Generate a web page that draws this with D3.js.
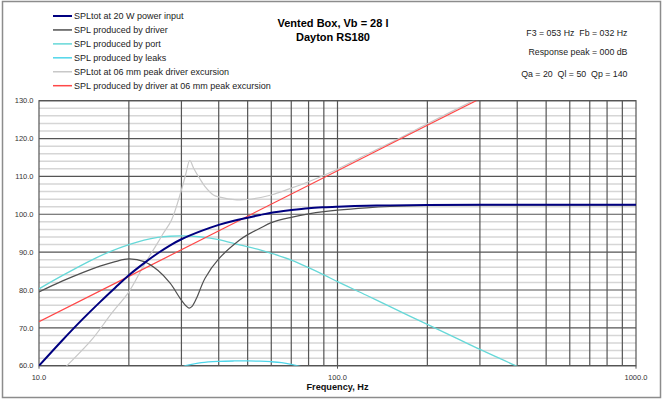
<!DOCTYPE html>
<html><head><meta charset="utf-8">
<script src="https://cdn.jsdelivr.net/npm/d3@7"></script>
<style>
html,body{margin:0;padding:0;background:#fff;}
svg{display:block;font-family:"Liberation Sans",Arial,sans-serif;}
text{white-space:pre;}
</style></head>
<body>
<svg id="chart" width="662" height="400"></svg>
<script>
// ---------- data ----------
const xTicks = [10, 100, 1000];
const xTickLabels = ["10.0", "100.0", "1000.0"];
const yTicks = [60, 70, 80, 90, 100, 110, 120, 130];
const yTickLabels = ["60.0", "70.0", "80.0", "90.0", "100.0", "110.0", "120.0", "130.0"];

const totFreq = [10, 12, 14, 16, 18, 20, 22.5, 25, 27.5, 30, 35, 40, 45, 50, 55, 60, 70, 80, 90, 100, 125, 150, 200, 300, 500, 1000];
const totSPL  = [60, 66.8, 72.3, 76.8, 80.6, 83.9, 87.1, 89.7, 91.8, 93.4, 95.6, 97.2, 98.3, 99.1, 99.8, 100.4, 101.1, 101.6, 101.85, 102.0, 102.25, 102.35, 102.45, 102.5, 102.5, 102.5];

const drvFreq = [10, 12, 14, 16, 18, 20, 22.5, 25, 27.5, 29.7, 31, 31.8, 32.5, 33.7, 36, 40, 47, 50, 55, 60, 70, 80, 90, 100, 125, 150, 200, 250, 300, 500, 1000];
const drvSPL  = [79.5, 82.4, 84.6, 86.3, 87.5, 88.2, 87.5, 85.2, 81.8, 77.8, 75.9, 75.2, 75.6, 77.8, 83.1, 88.2, 93.2, 94.6, 96.3, 97.8, 99.2, 100.1, 100.7, 101.1, 101.7, 102.05, 102.35, 102.45, 102.5, 102.5, 102.5];

const portFreq = [10, 12, 15, 17.3, 20, 22.5, 25, 27.5, 30, 35, 40, 47, 55, 60, 70, 80, 90, 100, 125, 150, 200, 250, 300, 400, 500];
const portSPL  = [80.3, 83.85, 87.9, 90.15, 92.0, 93.2, 93.9, 94.2, 94.3, 94.0, 93.3, 91.9, 90.6, 89.7, 87.9, 85.9, 84.0, 82.2, 78.6, 75.6, 70.9, 67.3, 64.3, 59.8, 56.0];

const leakFreq = [25, 30, 31, 35, 40, 45, 50, 55, 60, 65, 70, 73, 80];
const leakSPL  = [58.5, 59.7, 60.0, 60.8, 61.15, 61.25, 61.25, 61.2, 61.05, 60.8, 60.35, 60.0, 59.3];

const excFreq = [11, 12.4, 15, 17.5, 20, 22.3, 25, 26, 27.8, 30, 31, 32, 33, 34.5, 36, 38.4, 40, 46, 50, 60, 70, 80, 100, 125, 157, 200, 300];
const excSPL  = [56, 60, 66.8, 73.8, 79.5, 86.1, 92.5, 94.8, 98.5, 106.4, 110.5, 114.2, 112.1, 109.5, 107.3, 105.1, 104.6, 103.8, 103.9, 105.1, 106.9, 108.6, 111.9, 115.8, 119.6, 123.9, 130.9];

const redFreq = [10, 20, 50, 100, 200, 300];
const redSPL  = [71.6, 83.6, 99.5, 111.5, 123.5, 130.5];

const legendLabels = [
  "SPLtot at 20 W power input",
  "SPL produced by driver",
  "SPL produced by port",
  "SPL produced by leaks",
  "SPLtot at 06 mm peak driver excursion",
  "SPL produced by driver at 06 mm peak excursion"
];
const titleLines = ["Vented Box, Vb = 28 l", "Dayton RS180"];
const infoLines = ["F3 = 053 Hz  Fb = 032 Hz", "Response peak = 000 dB", "Qa = 20  Ql = 50  Qp = 140"];
const xAxisTitle = "Frequency, Hz";

// ---------- layout ----------
const L = 39, R = 636, T = 100.7, B = 365.7;
const svg = d3.select("#chart");
const x = d3.scaleLog().domain([10, 1000]).range([L, R]);
const y = d3.scaleLinear().domain([60, 130]).range([B, T]);

// outer frame
svg.append("rect").attr("x", 2.5).attr("y", 1.5).attr("width", 658).attr("height", 396)
  .attr("fill", "#fff").attr("stroke", "#8c8c8c").attr("stroke-width", 1.5);

// minor horizontal grid (every 2 dB)
const minorY = d3.range(62, 130, 2).filter(v => v % 10 !== 0);
svg.append("g").selectAll("line").data(minorY).join("line")
  .attr("x1", L).attr("x2", R).attr("y1", d => y(d)).attr("y2", d => y(d))
  .attr("stroke", "#d6d6d6").attr("stroke-width", 1.5);

// major horizontal grid
svg.append("g").selectAll("line").data(yTicks).join("line")
  .attr("x1", L).attr("x2", R).attr("y1", d => y(d)).attr("y2", d => y(d))
  .attr("stroke", "#555").attr("stroke-width", 1.2);

// vertical grid (log minor)
const vLines = x.ticks().filter(v => v > 10 && v < 1000);
svg.append("g").selectAll("line").data(vLines).join("line")
  .attr("x1", d => x(d)).attr("x2", d => x(d)).attr("y1", T).attr("y2", B)
  .attr("stroke", "#555").attr("stroke-width", 1.2);

// decade ticks below axis
svg.append("g").selectAll("line").data(xTicks).join("line")
  .attr("x1", d => x(d)).attr("x2", d => x(d)).attr("y1", B).attr("y2", B + 3)
  .attr("stroke", "#555").attr("stroke-width", 1);

// plot border
svg.append("rect").attr("x", L).attr("y", T).attr("width", R - L).attr("height", B - T)
  .attr("fill", "none").attr("stroke", "#555").attr("stroke-width", 1.2);

// axis labels
svg.append("g").selectAll("text").data(yTicks).join("text")
  .attr("x", 33.5).attr("y", d => y(d) + 2.7).attr("text-anchor", "end")
  .attr("font-size", 7.5).attr("fill", "#333").text((d, i) => yTickLabels[i]);
svg.append("g").selectAll("text").data(xTicks).join("text")
  .attr("x", d => x(d)).attr("y", 379.5).attr("text-anchor", "middle")
  .attr("font-size", 7.5).attr("fill", "#333").text((d, i) => xTickLabels[i]);
svg.append("text").attr("x", x(100)).attr("y", 390).attr("text-anchor", "middle")
  .attr("font-size", 9.2).attr("font-weight", "bold").attr("fill", "#111").text(xAxisTitle);

// clip
svg.append("clipPath").attr("id", "clip").append("rect")
  .attr("x", L).attr("y", T).attr("width", R - L).attr("height", B - T);

const line = d3.line().x(d => x(d[0])).y(d => y(d[1])).curve(d3.curveCatmullRom.alpha(0.5));
const zip = (a, b) => a.map((v, i) => [v, b[i]]);

const series = [
  {f: portFreq, v: portSPL, color: "#66d8d8", w: 1.3},
  {f: leakFreq, v: leakSPL, color: "#4fd6ea", w: 1.3},
  {f: excFreq, v: excSPL, color: "#c8c8c8", w: 1.2},
  {f: redFreq, v: redSPL, color: "#ff4848", w: 1.2, linear: true},
  {f: drvFreq, v: drvSPL, color: "#505050", w: 1.2},
  {f: totFreq, v: totSPL, color: "#000080", w: 2}
];
const gSeries = svg.append("g").attr("clip-path", "url(#clip)");
series.forEach(s => {
  const ln = s.linear ? d3.line().x(d => x(d[0])).y(d => y(d[1])) : line;
  gSeries.append("path").attr("d", ln(zip(s.f, s.v)))
    .attr("fill", "none").attr("stroke", s.color).attr("stroke-width", s.w)
    .attr("stroke-linejoin", "round");
});

// legend
const legendOrder = [5, 4, 0, 1, 2, 3]; // legend rows -> series entries
const legendY0 = 16, legendDY = 13.94;
legendLabels.forEach((lab, i) => {
  const s = series[legendOrder[i]];
  const yy = legendY0 + i * legendDY;
  svg.append("line").attr("x1", 53).attr("x2", 72).attr("y1", yy).attr("y2", yy)
    .attr("stroke", s.color).attr("stroke-width", i === 0 ? 2 : 1.5);
  svg.append("text").attr("x", 74).attr("y", yy + 3.3).attr("font-size", 9)
    .attr("fill", "#222").text(lab);
});

// title
titleLines.forEach((t, i) => {
  svg.append("text").attr("x", 333).attr("y", 26.5 + i * 14).attr("text-anchor", "middle")
    .attr("font-size", 11).attr("font-weight", "bold").attr("fill", "#000").text(t);
});

// info text
const infoY = [35.5, 55, 76.5];
infoLines.forEach((t, i) => {
  svg.append("text").attr("x", 627.5).attr("y", infoY[i]).attr("text-anchor", "end")
    .attr("font-size", 8.8).attr("fill", "#222").text(t);
});
</script>
</body></html>
